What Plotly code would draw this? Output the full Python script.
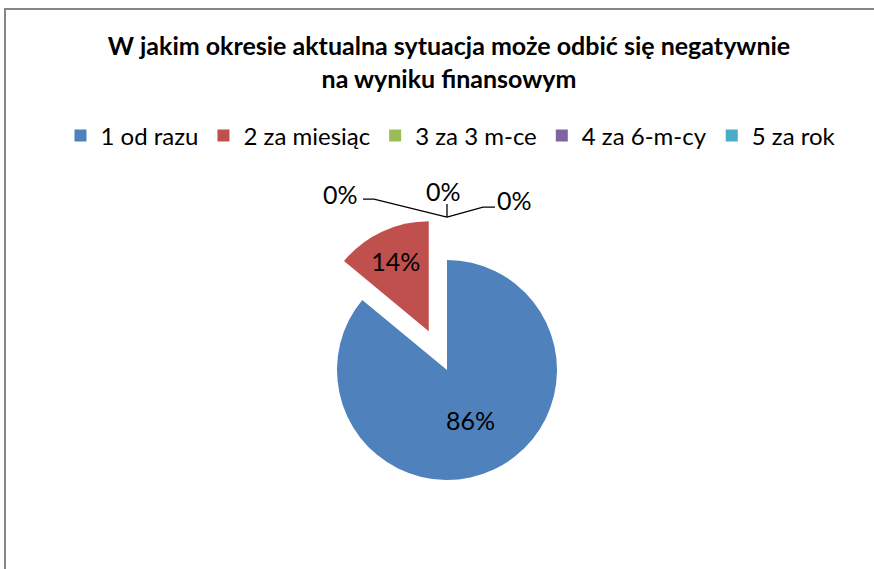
import math
import plotly.graph_objects as go

# ---- data ----
labels = ["1 od razu", "2 za miesiąc", "3 za 3 m-ce", "4 za 6-m-cy", "5 za rok"]
values = [86, 14, 0, 0, 0]
colors = ["#4F81BD", "#C0504D", "#9BBB59", "#8064A2", "#4BACC6"]
title_lines = ["W jakim okresie aktualna sytuacja może odbić się negatywnie",
               "na wyniku finansowym"]

# ---- layout geometry (pixels) ----
W, H = 874, 569
cx, cy = 447, 370          # pie centre
r = 110                    # pie radius
pull = 0.39                # explosion as fraction of radius
box = 2 * r * (1 + pull)   # plotly: r = box / (2 + 2*pull)

def px(x):
    return x / W

def py(y):
    return 1 - y / H

total = sum(values)
pulls = [0 if v == max(values) else pull for v in values]
texts = [f"{v / total:.0%}" if v > 0 else "" for v in values]

fig = go.Figure()
fig.add_trace(go.Pie(
    labels=labels,
    values=values,
    sort=False,
    direction="clockwise",
    rotation=0,
    pull=pulls,
    marker=dict(colors=colors, line=dict(width=0)),
    text=texts,
    textinfo="text",
    textposition="inside",
    insidetextorientation="horizontal",
    textfont=dict(family="Lato", size=25, color="black"),
    hoverinfo="label+percent",
    domain=dict(x=[px(cx - box / 2), px(cx + box / 2)],
                y=[py(cy + box / 2), py(cy - box / 2)]),
))

# ---- leader lines and labels for zero-value slices ----
shapes = []
annotations = []
zero_idx = [i for i, v in enumerate(values) if v == 0]
# offsets (pixels) of each label / leader line relative to convergence point
label_offsets = [(-106, -23), (-4, -26), (67, -17)]
line_paths = [[(-73, -18), (-84, -18)], [(0, -13)], [(36, -10), (48, -10)]]
for k, i in enumerate(zero_idx):
    ang = 2 * math.pi * sum(values[:i]) / total
    rr = r * (1 + pulls[i])
    qx = cx + rr * math.sin(ang)
    qy = cy - rr * math.cos(ang)
    pts = [(qx, qy)] + [(qx + dx, qy + dy) for dx, dy in line_paths[k]]
    path = "M " + " L ".join(f"{px(x):.5f},{py(y):.5f}" for x, y in pts)
    shapes.append(dict(type="path", path=path, xref="paper", yref="paper",
                       line=dict(color="black", width=1.3)))
    lx, ly = label_offsets[k]
    annotations.append(dict(x=px(qx + lx), y=py(qy + ly), xref="paper", yref="paper",
                            text=f"{values[i] / total:.0%}", showarrow=False,
                            xanchor="center", yanchor="middle",
                            font=dict(family="Lato", size=25, color="black")))

# chart border
shapes.append(dict(type="path", xref="paper", yref="paper",
                   path=f"M {px(5)},{py(H + 2)} L {px(5)},{py(9)} L {px(W + 2)},{py(9)}",
                   line=dict(color="#868686", width=2)))

fig.update_layout(
    width=W, height=H, autosize=False,
    margin=dict(l=0, r=0, t=0, b=0),
    paper_bgcolor="white", plot_bgcolor="white",
    title=dict(text="<b>" + "<br>".join(title_lines) + "</b>",
               x=px(449), xanchor="center", y=py(55), yanchor="middle",
               font=dict(family="Lato", size=25, color="black")),
    legend=dict(orientation="h", x=px(451), xanchor="center", y=py(136), yanchor="middle",
                font=dict(family="Lato", size=24, color="black"), traceorder="normal"),
    shapes=shapes,
    annotations=annotations,
)

fig.write_html("out.html", post_script="document.body.style.margin='0';",
               config={"displayModeBar": False})
